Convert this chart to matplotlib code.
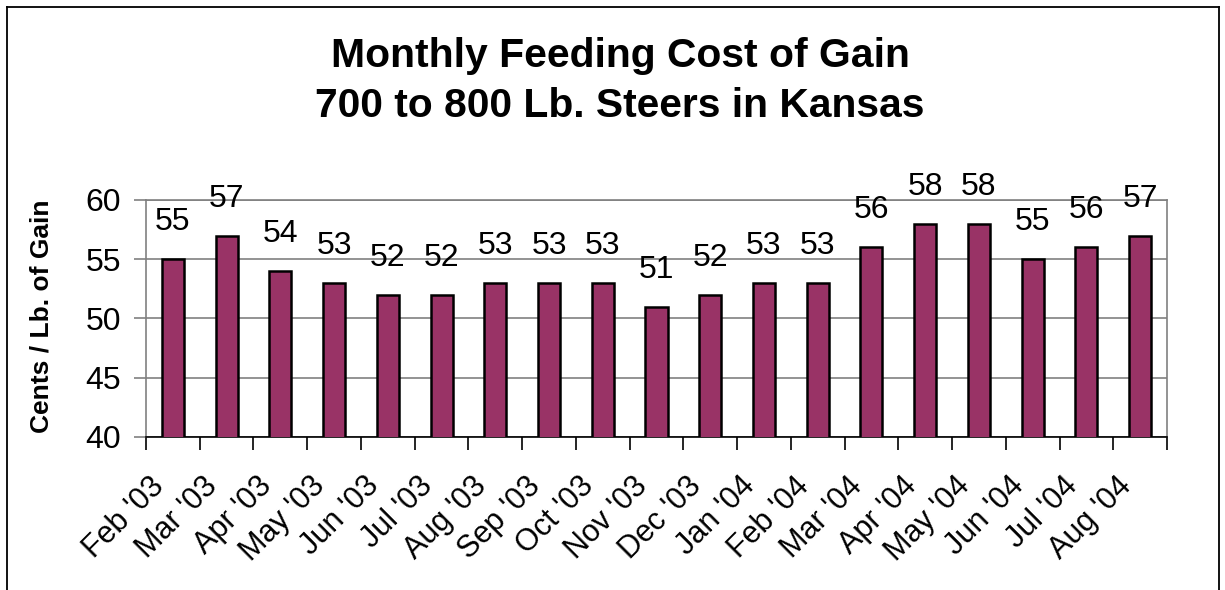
import matplotlib
matplotlib.use("Agg")
import matplotlib.pyplot as plt
from matplotlib.lines import Line2D
from matplotlib.transforms import ScaledTranslation

months = ["Feb '03", "Mar '03", "Apr '03", "May '03", "Jun '03", "Jul '03", "Aug '03",
          "Sep '03", "Oct '03", "Nov '03", "Dec '03", "Jan '04", "Feb '04", "Mar '04",
          "Apr '04", "May '04", "Jun '04", "Jul '04", "Aug '04"]
cost = [55, 57, 54, 53, 52, 52, 53, 53, 53, 51, 52, 53, 53, 56, 58, 58, 55, 56, 57]
yticks = [40, 45, 50, 55, 60]

plt.rcParams['font.family'] = ['Liberation Sans', 'DejaVu Sans']

fig = plt.figure(figsize=(12.25, 5.9), dpi=100)
W, H = 1225, 590
ax = fig.add_axes([146 / W, 1 - 437 / H, (1167 - 146) / W, (437 - 200) / H])

x = list(range(len(months)))
ax.bar(x, cost, width=0.41, color='#993366', edgecolor='black', linewidth=1.8, zorder=3)
ax.set_ylim(40, 60)
ax.set_xlim(-0.5, len(months) - 0.5)
ax.set_yticks(yticks)
ax.set_yticklabels([str(v) for v in yticks], fontsize=23)
ax.yaxis.grid(True, color='#808080', linewidth=1.2, zorder=0)
ax.tick_params(axis='y', length=9, width=1.2, color='#808080', pad=9)

# tick marks sit on the category boundaries; category names drawn below each bar
bounds = [i - 0.5 for i in range(len(months) + 1)]
ax.set_xticks(bounds)
ax.set_xticklabels([])
ax.tick_params(axis='x', length=9, width=1.2, color='#000000')

lab_tr = ax.get_xaxis_transform() + ScaledTranslation(-24 / 100, -34 / 100, fig.dpi_scale_trans)
for xi, m in zip(x, months):
    ax.text(xi, 0, m, transform=lab_tr, fontsize=22, rotation=45, ha='right', va='top',
            rotation_mode='anchor', clip_on=False)

for s in ['top', 'right', 'left']:
    ax.spines[s].set_color('#808080')
    ax.spines[s].set_linewidth(1.2)
ax.spines['bottom'].set_color('#000000')
ax.spines['bottom'].set_linewidth(1.2)

for xi, v in zip(x, cost):
    ax.annotate(str(v), (xi, v), xytext=(0, 15.8), textcoords='offset points',
                ha='center', va='bottom', fontsize=23, clip_on=False)

ax.set_ylabel("Cents / Lb. of Gain", fontsize=19, fontweight='bold')
ax.yaxis.set_label_coords((54 - 146) / 1021, 0.51)

fig.text(620 / W, 1 - 67 / H, "Monthly Feeding Cost of Gain",
         ha='center', va='baseline', fontsize=29.4, fontweight='bold')
fig.text(620 / W, 1 - 117 / H, "700 to 800 Lb. Steers in Kansas",
         ha='center', va='baseline', fontsize=29.3, fontweight='bold')

# figure border (left, top, right)
for (x0, y0, x1, y1) in [(6.5, 590, 6.5, 6.5), (6.5, 6.5, 1218.5, 6.5), (1218.5, 6.5, 1218.5, 590)]:
    fig.add_artist(Line2D([x0 / W, x1 / W], [1 - y0 / H, 1 - y1 / H], color='black', linewidth=1.3,
                          transform=fig.transFigure))

fig.savefig("out.png", dpi=100, facecolor='white')
